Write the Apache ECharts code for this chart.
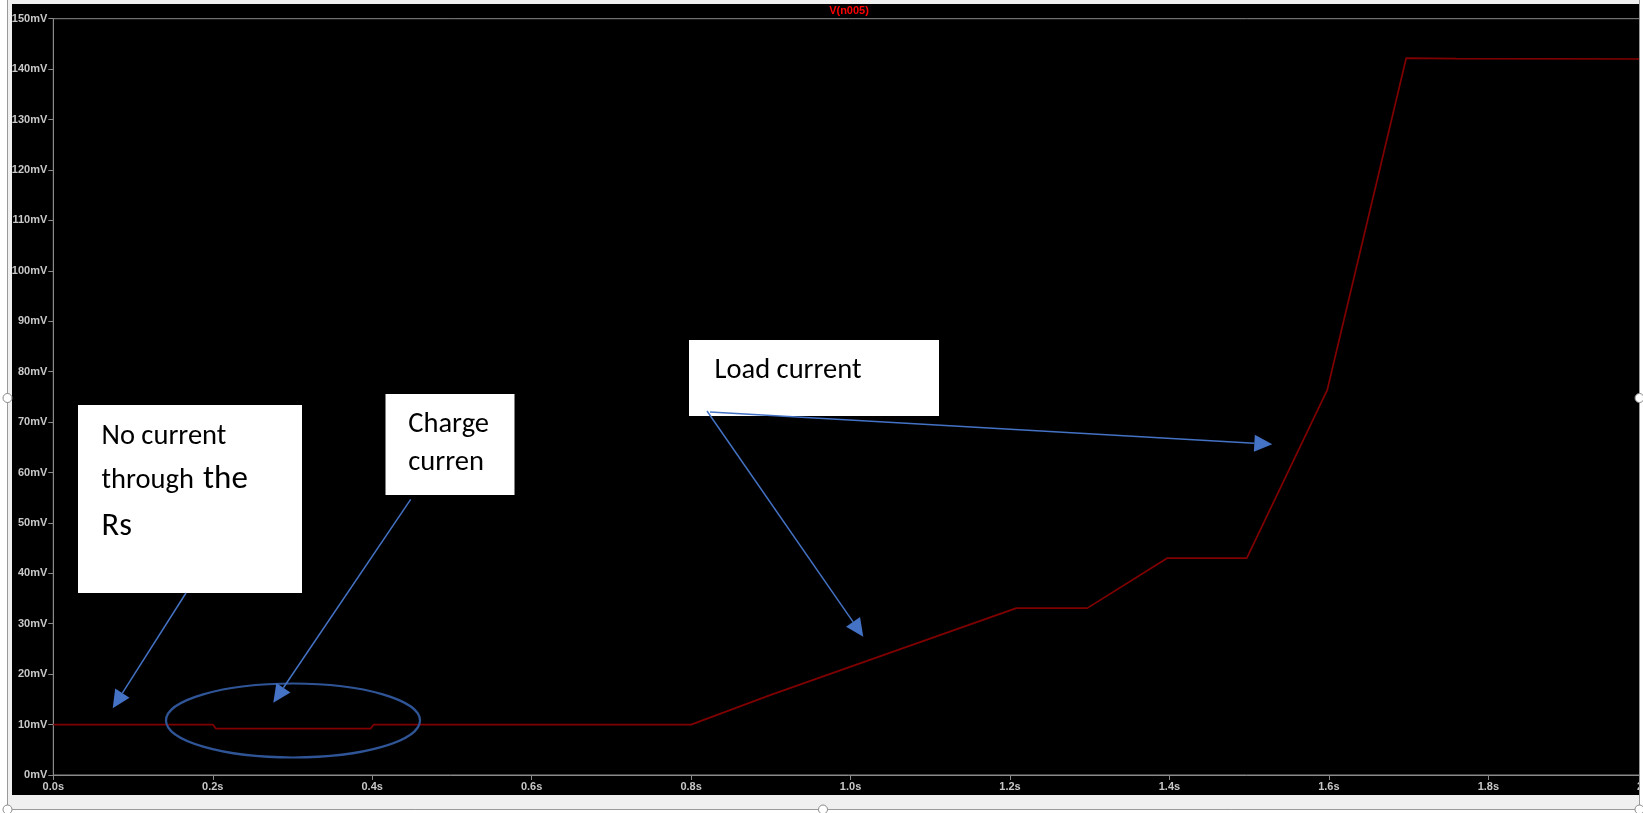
<!DOCTYPE html>
<html>
<head>
<meta charset="utf-8">
<script src="https://cdn.jsdelivr.net/npm/echarts@6/dist/echarts.min.js"></script>
<style>
html,body{margin:0;padding:0;background:#fff;overflow:hidden}
#c{width:1643px;height:813px}
</style>
</head>
<body>
<div id="c"></div>
<script>
// ---- data (LTspice transient trace) ----
const traceName = 'V(n005)';
const timeS  = [0, 0.2, 0.204, 0.398, 0.402, 0.8, 0.9, 1.208, 1.297, 1.397, 1.497, 1.598, 1.697, 1.76, 2.0];
const voltMV = [10, 10, 9.2, 9.2, 10, 10, 15.9, 33.1, 33.1, 43, 43, 76.4, 142.2, 142.1, 142.0];
const xTickStep = 0.2, xMin = 0, xMax = 2;
const yTickStep = 10, yMin = 0, yMax = 150;
const noteNoCurrent = ['No current', 'through ', 'the', 'Rs'];
const noteCharge = ['Charge', 'curren'];
const noteLoad = 'Load current';

const points = timeS.map((t, i) => [t, voltMV[i]]);

const chart = echarts.init(document.getElementById('c'), null, {renderer: 'canvas'});

const BLUE = '#4472c4';
const TXT = 'Carlito, Calibri, "Open Sans", sans-serif';
function arrow(x1, y1, x2, y2) {
  const dx = x2 - x1, dy = y2 - y1, len = Math.hypot(dx, dy);
  const ux = dx / len, uy = dy / len, L = 18, W = 8.5;
  const bx = x2 - ux * L, by = y2 - uy * L;
  return [
    {type: 'line', z: 120, shape: {x1: x1, y1: y1, x2: bx, y2: by}, style: {stroke: BLUE, lineWidth: 1.5}},
    {type: 'polygon', z: 120, shape: {points: [[x2, y2], [bx - uy * W, by + ux * W], [bx + uy * W, by - ux * W]]}, style: {fill: BLUE}}
  ];
}
// place text by its baseline (Carlito: canvas "middle" sits 0.25em above the baseline)
function txt(x, baseline, s, size) {
  return {type: 'text', z: 115, x: x, y: baseline - 0.25 * size,
    style: {text: s, font: size + 'px ' + TXT, fill: '#000', textAlign: 'left', textVerticalAlign: 'middle', align: 'left', verticalAlign: 'middle'}};
}
function box(x, y, w, h) {
  return {type: 'rect', z: 110, shape: {x: x, y: y, width: w, height: h}, style: {fill: '#fff'}};
}

const GRAY = '#f0f0f0';
const FRAME = '#9a9a9a';
const handle = (cx, cy) => ({type: 'circle', z: 210, shape: {cx: cx, cy: cy, r: 4.5}, style: {fill: '#fff', stroke: '#8a8a8a', lineWidth: 1}});

const graphics = [].concat(
  [
    box(78, 405, 224, 188),
    txt(101.5, 444, noteNoCurrent[0], 28.5),
    txt(101.5, 488.3, noteNoCurrent[1], 28.5),
    txt(203, 488.3, noteNoCurrent[2], 33),
    txt(101.5, 535, noteNoCurrent[3], 32.5),
    box(385.5, 394, 129, 101),
    txt(408.3, 431.7, noteCharge[0], 28.5),
    txt(408.3, 470, noteCharge[1], 28.5),
    box(689, 340, 250, 76),
    txt(714.5, 378.3, noteLoad, 28.5),
    {type: 'ellipse', z: 118, shape: {cx: 293, cy: 720.5, rx: 127, ry: 37}, style: {fill: 'none', stroke: '#2f5597', lineWidth: 2.2}}
  ],
  arrow(186, 593, 112.7, 708.3),
  arrow(410.7, 499.3, 273.3, 702.7),
  arrow(707, 411, 863.3, 636.7),
  arrow(710, 412, 1272.3, 444.3),
  [
    // picture frame (window border / selection frame)
    {type: 'rect', z: 200, shape: {x: 0, y: 0, width: 7.5, height: 813}, style: {fill: '#fff'}},
    {type: 'rect', z: 200, shape: {x: 1639.5, y: 0, width: 4, height: 813}, style: {fill: '#fff'}},
    {type: 'rect', z: 200, shape: {x: 0, y: 809.5, width: 1643, height: 4}, style: {fill: '#fff'}},
    {type: 'rect', z: 200, shape: {x: 7.5, y: 0, width: 1632, height: 4}, style: {fill: GRAY}},
    {type: 'rect', z: 200, shape: {x: 7.5, y: 0, width: 4.5, height: 810}, style: {fill: GRAY}},
    {type: 'rect', z: 200, shape: {x: 7.5, y: 795, width: 1632, height: 14.5}, style: {fill: GRAY}},
    {type: 'rect', z: 205, shape: {x: 7.5, y: -2, width: 1632, height: 811.5}, style: {fill: 'none', stroke: FRAME, lineWidth: 1}},
    handle(7.5, 398), handle(1639.5, 398), handle(823, 809.5), handle(7.5, 809.5), handle(1639.5, 809.5)
  ]
);

const option = {
  animation: false,
  backgroundColor: '#000',
  title: {
    text: traceName, left: 849, top: 5, textAlign: 'center', padding: 0,
    textStyle: {color: '#ff0000', fontSize: 11, fontWeight: 'bold', fontFamily: '"Liberation Sans", Arial, sans-serif'}
  },
  grid: {
    left: 53.3, top: 18.7, width: 1594.5, height: 756.3,
    show: true, borderColor: '#8a8a8a', borderWidth: 1, backgroundColor: 'transparent',
    containLabel: false, outerBoundsMode: 'none'
  },
  xAxis: {
    type: 'value', min: xMin, max: xMax, interval: xTickStep,
    axisLine: {show: true, lineStyle: {color: '#8a8a8a', width: 1}},
    axisTick: {show: true, inside: false, length: 5, lineStyle: {color: '#8a8a8a'}},
    splitLine: {show: false},
    axisLabel: {
      show: true, margin: 6, color: '#c8c8c8', fontSize: 11, fontWeight: 'bold',
      fontFamily: '"Liberation Sans", Arial, sans-serif', showMinLabel: true, showMaxLabel: true,
      hideOverlap: false,
      formatter: v => v.toFixed(1) + 's'
    }
  },
  yAxis: {
    type: 'value', min: yMin, max: yMax, interval: yTickStep,
    axisLine: {show: true, lineStyle: {color: '#8a8a8a', width: 1}},
    axisTick: {show: true, inside: false, length: 5, lineStyle: {color: '#8a8a8a'}},
    splitLine: {show: false},
    axisLabel: {
      show: true, margin: 6, color: '#c8c8c8', fontSize: 11, fontWeight: 'bold',
      fontFamily: '"Liberation Sans", Arial, sans-serif', showMinLabel: true, showMaxLabel: true,
      hideOverlap: false,
      formatter: v => Math.round(v) + 'mV'
    }
  },
  series: [{
    name: traceName, type: 'line', data: points, showSymbol: false, symbol: 'none',
    lineStyle: {color: '#800000', width: 1.7}, z: 5, clip: true
  }],
  graphic: {elements: graphics}
};
chart.setOption(option);
</script>
</body>
</html>
